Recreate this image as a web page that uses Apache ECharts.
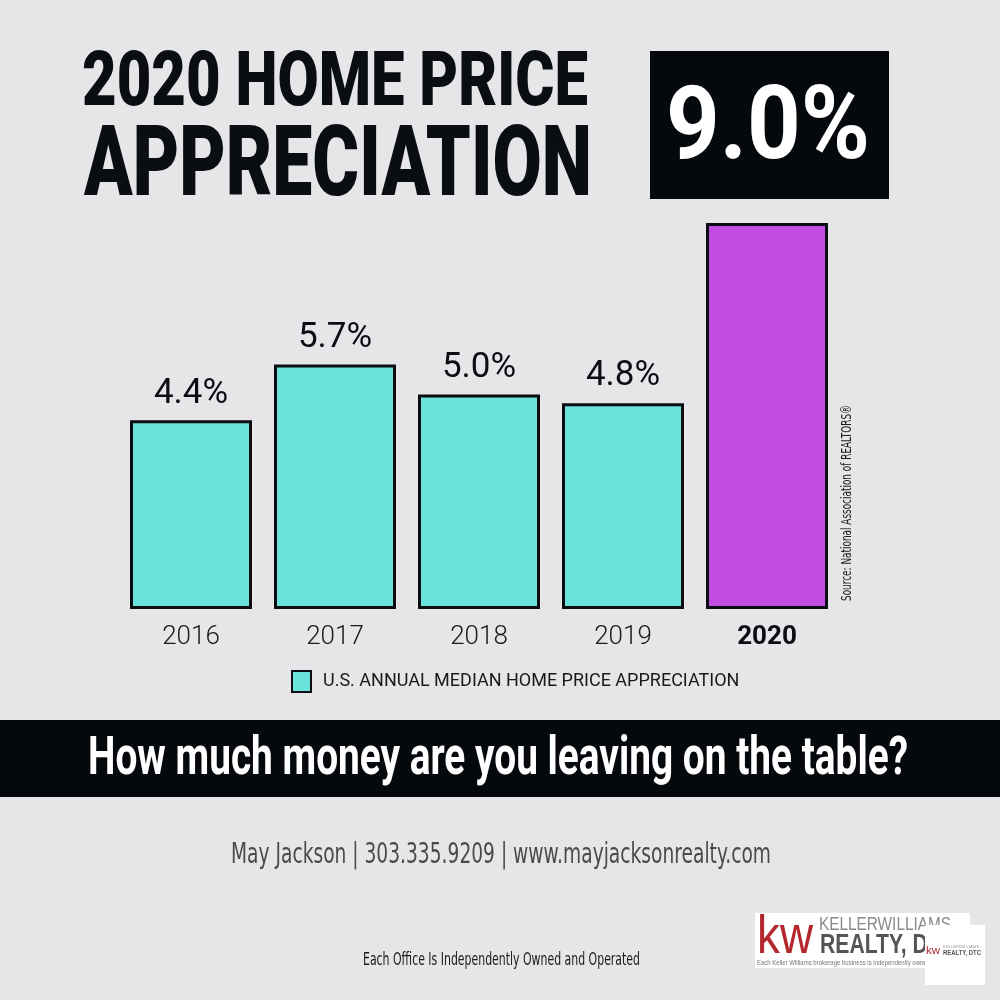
<!DOCTYPE html>
<html><head><meta charset="utf-8">
<script src="https://cdn.jsdelivr.net/npm/echarts@6/dist/echarts.min.js"></script>
<style>html,body{margin:0;padding:0;background:#e6e6e8}#c{width:1000px;height:1000px}</style>
</head><body><div id="c"></div>
<script>
const years = ['2016', '2017', '2018', '2019', '2020'];
const values = [4.4, 5.7, 5.0, 4.8, 9.0];
const highlightYear = '2020';
const seriesName = 'U.S. ANNUAL MEDIAN HOME PRICE APPRECIATION';
const titleLines = ['2020 HOME PRICE', 'APPRECIATION'];
const bannerText = 'How much money are you leaving on the table?';
const contactText = 'May Jackson | 303.335.9209 | www.mayjacksonrealty.com';
const disclaimerText = 'Each Office Is Independently Owned and Operated';
const sourceText = 'Source: National Association of REALTORS®';

const NARROW = "'DejaVu Sans',Roboto,sans-serif";
const BOLDF = "Roboto,'Liberation Sans',sans-serif";
const LIB = "'Liberation Sans',sans-serif";
const INK = '#0a0d12';

const mctx = document.createElement('canvas').getContext('2d');
function measure(text, weight, size, family) {
  mctx.font = weight + ' ' + size + 'px ' + family;
  return mctx.measureText(text).width;
}
// text fitted to a box: left x, cap centre y, cap height, target width
function fitText(text, left, capCenter, capH, width, o) {
  o = o || {};
  const family = o.family || BOLDF;
  const weight = o.weight || 'normal';
  const size = capH / 0.711;
  const w = measure(text, weight, size, family);
  const rot = o.rotation || 0;
  const off = 0.085 * size;
  return {
    type: 'text',
    x: left + (rot ? off : 0), y: capCenter + (rot ? 0 : off),
    rotation: rot, scaleX: width / w, z: o.z || 10,
    style: { text: text, fontSize: size, fontWeight: weight, fontFamily: family,
      fill: o.color || INK, align: 'left', verticalAlign: 'middle' }
  };
}

const highlightIdx = years.indexOf(highlightYear);
const graphics = [
  fitText(titleLines[0], 82, 80, 54, 506, { weight: 900 }),
  fitText(titleLines[1], 84, 162, 70, 508, { weight: 900 }),
  { type: 'rect', shape: { x: 650, y: 51, width: 239, height: 148 }, style: { fill: '#05080c' }, z: 5 },
  fitText(values[highlightIdx].toFixed(1) + '%', 666, 123.5, 73, 204, { weight: 'bold', color: '#ffffff' }),
  fitText(sourceText, 846, 601, 9.5, 196, { family: NARROW, color: '#1a1a1a', rotation: Math.PI / 2 }),
  { type: 'rect', shape: { x: 0, y: 720, width: 1000, height: 77 }, style: { fill: '#05080c' }, z: 5 },
  fitText(bannerText, 88, 756, 38, 820, { weight: 'bold', color: '#ffffff' }),
  fitText(contactText, 231, 853, 20, 540, { family: NARROW, color: '#4a4a4a' }),
  fitText(disclaimerText, 363, 959, 12, 277, { family: NARROW, color: '#1a1a1a' }),
  // logo
  { type: 'rect', shape: { x: 755, y: 913, width: 215, height: 55 }, style: { fill: '#ffffff' }, z: 5 },
  fitText('kw', 757, 934, 38, 56, { color: '#b3272d', family: LIB }),
  fitText('KELLERWILLIAMS', 819, 923.5, 13, 132, { color: '#8a8a8a', family: LIB }),
  fitText('REALTY, DTC', 820, 943, 20, 136, { weight: 'bold', color: '#555555', family: LIB }),
  fitText('Each Keller Williams brokerage business is independently owned and operated', 757, 962, 5, 210, { color: '#777777', family: LIB }),
  { type: 'rect', shape: { x: 925, y: 925, width: 60, height: 60 }, style: { fill: '#ffffff' }, z: 20 },
  fitText('kw', 926, 950, 8, 14, { color: '#b3272d', family: LIB, z: 21 }),
  fitText('KELLERWILLIAMS', 943, 946, 3, 36, { color: '#999999', family: LIB, z: 21 }),
  fitText('REALTY, DTC', 943, 952, 5, 38, { weight: 'bold', color: '#555555', family: LIB, z: 21 })
];

const chart = echarts.init(document.getElementById('c'), null, { renderer: 'canvas' });
chart.setOption({
  backgroundColor: '#e6e6e8',
  animation: false,
  grid: { left: 119, right: 161, top: 223, bottom: 391 },
  xAxis: {
    type: 'category', data: years,
    axisLine: { show: false }, axisTick: { show: false },
    axisLabel: {
      interval: 0, margin: 15, fontSize: 26, fontFamily: 'Roboto', fontWeight: 300, color: '#1a1a1a',
      formatter: v => v === highlightYear ? '{b|' + v + '}' : v,
      rich: { b: { fontWeight: 'bold', fontSize: 26, fontFamily: 'Roboto', color: INK } }
    }
  },
  yAxis: { type: 'value', min: 0, max: 9, show: false },
  legend: {
    data: [seriesName], left: 286, top: 665, icon: 'rect',
    itemWidth: 19, itemHeight: 21,
    textStyle: { fontSize: 18, fontFamily: 'Roboto', fontWeight: 'normal', color: '#1a1a1a', padding: [0, 0, 0, 7] }
  },
  series: [{
    type: 'bar', name: seriesName,
    data: values.map((v, i) => years[i] === highlightYear
      ? { value: v, itemStyle: { color: '#c24ce2' }, label: { show: false } }
      : { value: v }),
    barWidth: 122,
    itemStyle: { color: '#6ae3da', borderColor: INK, borderWidth: 3 },
    label: {
      show: true, position: 'top', distance: 9,
      formatter: p => p.value.toFixed(1) + '%',
      fontSize: 35, fontFamily: 'Roboto', color: INK
    }
  }],
  graphic: graphics
});
</script>
</body></html>
